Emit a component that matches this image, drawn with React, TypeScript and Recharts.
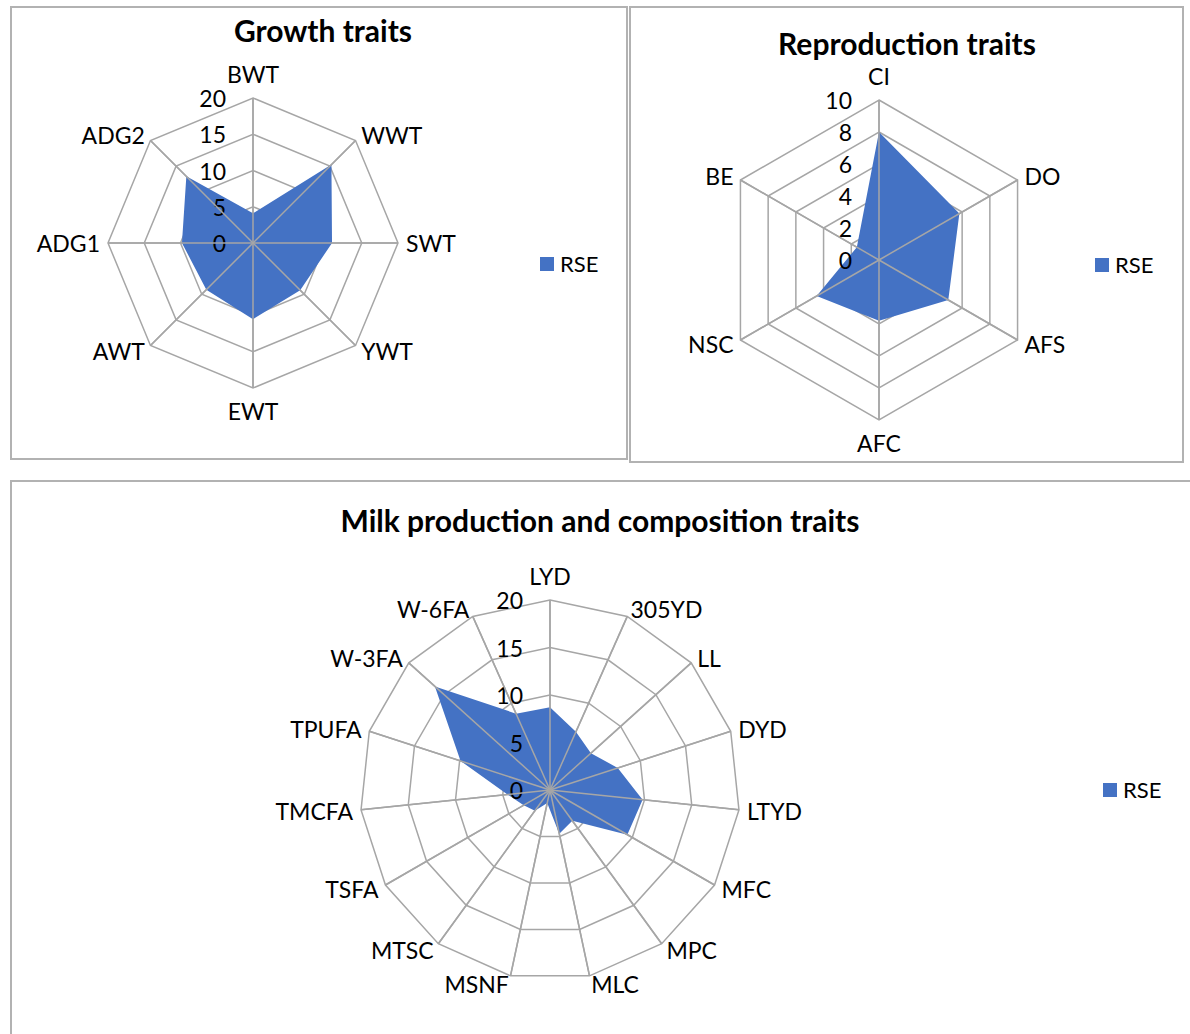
import React from "react";
import { RadarChart, Radar, PolarGrid, PolarAngleAxis, PolarRadiusAxis, Legend } from "recharts";

// growth traits (RSE, %)
const growthTraits = ["BWT", "WWT", "SWT", "YWT", "EWT", "AWT", "ADG1", "ADG2"];
const growthRse = [4.1, 15.3, 10.9, 9.2, 10.5, 9.1, 9.8, 13.0];
const growthTicks = [0, 5, 10, 15, 20];

// reproduction traits
const reproTraits = ["CI", "DO", "AFS", "AFC", "NSC", "BE"];
const reproRse = [8.0, 5.8, 5.0, 3.8, 4.5, 1.6];
const reproTicks = [0, 2, 4, 6, 8, 10];

// milk production and composition traits
const milkTraits = ["LYD", "305YD", "LL", "DYD", "LTYD", "MFC", "MPC", "MLC", "MSNF", "MTSC", "TSFA", "TMCFA", "TPUFA", "W-3FA", "W-6FA"];
const milkRse = [8.7, 6.7, 5.8, 7.5, 9.8, 9.4, 4.0, 4.7, 1.4, 2.7, 3.2, 4.5, 9.9, 16.3, 8.8];
const milkTicks = [0, 5, 10, 15, 20];

const BLUE = "#4472C4";
const GRID = "#a6a6a6";
const FONT = "Lato, 'Open Sans', sans-serif";
const RAD = Math.PI / 180;

type PanelProps = {
  title: string;
  traits: string[];
  values: number[];
  ticks: number[];
  box: [number, number, number, number]; // left, top, width, height (page px)
  center: [number, number];
  r: number;
  titlePos: [number, number];
  legendPos: [number, number];
};

function AngleTick(props: any) {
  const { payload, cx, cy, r } = props;
  const a = payload.coordinate * RAD;
  const ux = Math.cos(a);
  const uy = -Math.sin(a);
  const x = cx + (r + 8) * ux;
  let y = cy + (r + 8) * uy;
  const anchor = Math.abs(ux) < 1e-3 ? "middle" : ux > 0 ? "start" : "end";
  if (anchor === "middle") y += uy < 0 ? -16 : 15;
  return (
    <text x={x} y={y} textAnchor={anchor} dominantBaseline="central" fontSize={23} fontFamily={FONT} fill="#000">
      {payload.value}
    </text>
  );
}

function RadiusTick(props: any) {
  const { x, y, payload } = props;
  return (
    <text x={x - 27} y={y} textAnchor="end" dominantBaseline="central" fontSize={23} fontFamily={FONT} fill="#000">
      {payload.value}
    </text>
  );
}

function Panel({ title, traits, values, ticks, box, center, r, titlePos, legendPos }: PanelProps) {
  const [left, top, width, height] = box;
  const cx = center[0] - left;
  const cy = center[1] - top;
  const data = traits.map((t, i) => ({ trait: t, rse: values[i] }));
  return (
    <>
      <div
        style={{
          position: "absolute", left, top, width, height,
          border: "2px solid #b2b2b2", boxSizing: "border-box",
        }}
      />
      <div
        style={{
          position: "absolute", left: titlePos[0], top: titlePos[1],
          transform: "translate(-50%, -50%)", whiteSpace: "nowrap", lineHeight: 1,
          fontFamily: FONT, fontWeight: 700, fontSize: 30, color: "#000",
        }}
      >
        {title}
      </div>
      <div style={{ position: "absolute", left, top }}>
        <RadarChart width={width} height={height} data={data} cx={cx} cy={cy} outerRadius={r}
          margin={{ top: 0, right: 0, bottom: 0, left: 0 }}>
          <PolarGrid gridType="polygon" stroke={GRID} strokeWidth={1.5} />
          <PolarAngleAxis dataKey="trait" tickLine={false} axisLine={false}
            tick={(p: any) => <AngleTick {...p} cx={cx} cy={cy} r={r} />} />
          <PolarRadiusAxis angle={90} domain={[ticks[0], ticks[ticks.length - 1]]} tickCount={ticks.length}
            axisLine={false} tickLine={false} tick={(p: any) => <RadiusTick {...p} />} />
          <Radar name="RSE" dataKey="rse" fill={BLUE} fillOpacity={1} stroke="none" dot={false}
            isAnimationActive={false} />
          <PolarGrid gridType="polygon" stroke={GRID} strokeWidth={1.5} polarRadius={[]} zIndex={600} />
          <Legend
            wrapperStyle={{ position: "absolute", left: legendPos[0] - left, top: legendPos[1] - top - 14, width: "auto" }}
            content={({ payload }: any) => {
              const item = payload && payload[0];
              return (
                <div style={{ display: "flex", alignItems: "center", fontFamily: FONT, fontSize: 22 }}>
                  <span style={{ width: 14, height: 14, background: item?.color ?? BLUE, marginRight: 6, display: "inline-block" }} />
                  <span style={{ color: "#000" }}>{item?.value ?? "RSE"}</span>
                </div>
              );
            }}
          />
        </RadarChart>
      </div>
    </>
  );
}

export default function App() {
  return (
    <div style={{ position: "absolute", left: 0, top: 0, width: 1190, height: 1034, overflow: "hidden", background: "#fff" }}>
      <Panel title="Growth traits" traits={growthTraits} values={growthRse} ticks={growthTicks}
        box={[10, 6, 618, 454]} center={[253, 243]} r={145} titlePos={[323, 30]} legendPos={[540, 264]} />
      <Panel title="Reproduction traits" traits={reproTraits} values={reproRse} ticks={reproTicks}
        box={[629, 6, 555, 457]} center={[879, 260]} r={160} titlePos={[907, 43]} legendPos={[1095, 265]} />
      <Panel title="Milk production and composition traits" traits={milkTraits} values={milkRse} ticks={milkTicks}
        box={[10, 480, 1200, 600]} center={[550, 790]} r={190} titlePos={[600, 520]} legendPos={[1103, 790]} />
    </div>
  );
}
